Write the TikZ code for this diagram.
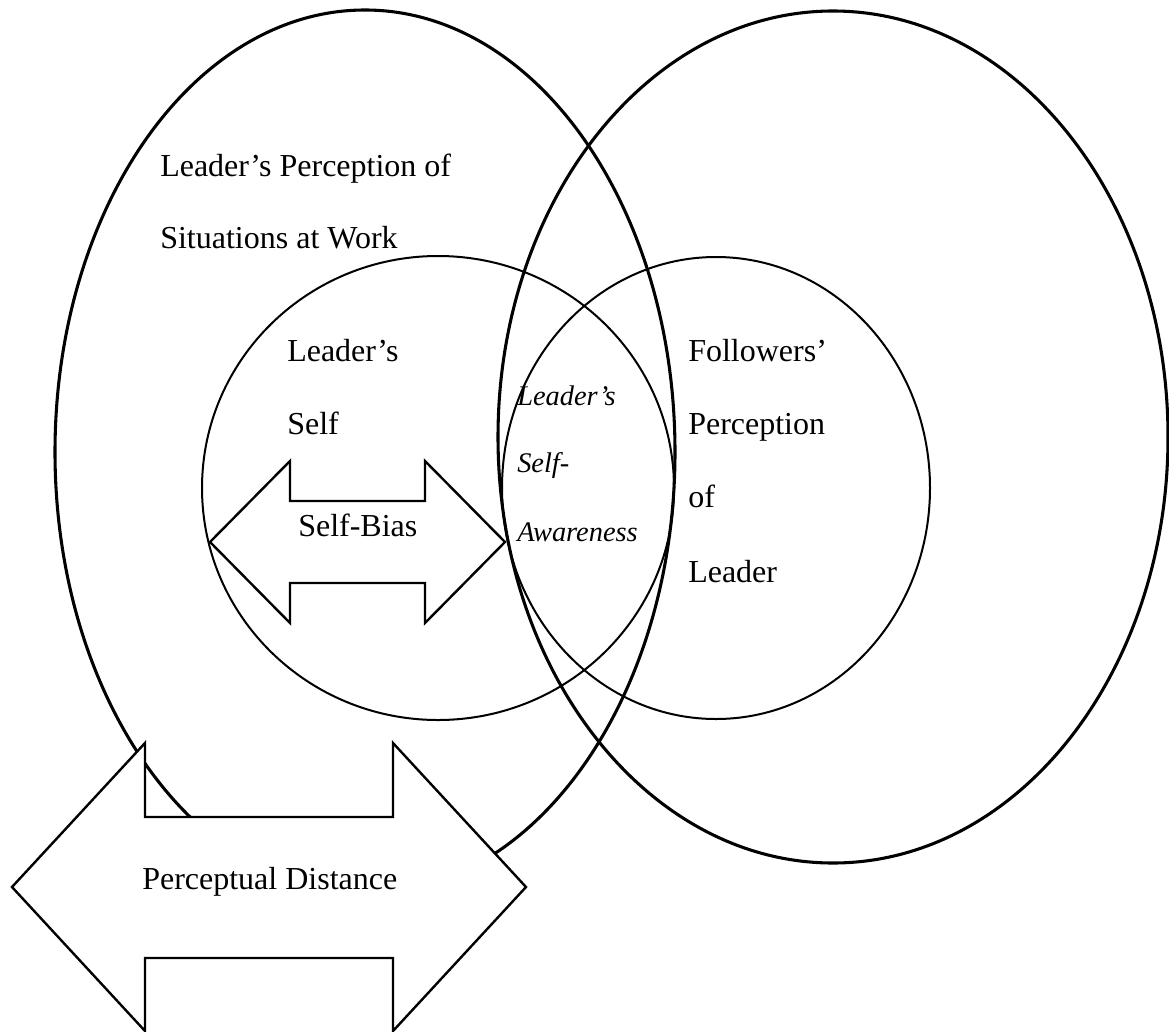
\documentclass[tikz,border=0pt]{standalone}
\usepackage{fontspec}
\setmainfont{Liberation Serif}
\begin{document}
\begin{tikzpicture}[x=0.75pt,y=-0.75pt,
  bigoval/.style={draw=black,line width=2.3pt},
  smalloval/.style={draw=black,line width=1.5pt},
  dblarrow/.style={draw=black,fill=white,line width=1.8pt,line join=miter},
  lbl/.style={anchor=base west,inner sep=0pt,font=\fontsize{24}{28}\selectfont},
  ilbl/.style={anchor=base west,inner sep=0pt,font=\fontsize{21.3}{25}\selectfont\itshape}]
\useasboundingbox (0,0) rectangle (1169,1031);
% large ovals
\draw[bigoval] (365,452) ellipse [x radius=310, y radius=442];
\draw[bigoval] (833,437) ellipse [x radius=335, y radius=426];
% circles
\draw[smalloval] (438,488) ellipse [x radius=236, y radius=232];
\draw[smalloval] (716,488) ellipse [x radius=214, y radius=231];
% self-bias arrow
\draw[dblarrow] (210,542) -- (290,461) -- (290,501) -- (425,501) -- (425,461) -- (505,542)
  -- (425,623) -- (425,583) -- (290,583) -- (290,623) -- cycle;
% perceptual distance arrow
\draw[dblarrow] (12,887) -- (145,743) -- (145,817) -- (393,817) -- (393,743) -- (526,887)
  -- (393,1031) -- (393,958) -- (145,958) -- (145,1031) -- cycle;
% texts
\node[lbl] (sit1) at (160,176) {Leader’s Perception of};
\node[lbl] (sit2) at (160,248) {Situations at Work};
\node[lbl] (self1) at (287,361) {Leader’s};
\node[lbl] (self2) at (287,434) {Self};
\node[lbl] (bias) at (298,536) {Self-Bias};
\node[ilbl] (aware1) at (517,405) {Leader’s};
\node[ilbl] (aware2) at (517,472) {Self-};
\node[ilbl] (aware3) at (517,541) {Awareness};
\node[lbl] (foll1) at (688,361) {Followers’};
\node[lbl] (foll2) at (688,434) {Perception};
\node[lbl] (foll3) at (688,507) {of};
\node[lbl] (foll4) at (688,582) {Leader};
\node[lbl] (dist) at (142,889) {Perceptual Distance};
\end{tikzpicture}
\end{document}
